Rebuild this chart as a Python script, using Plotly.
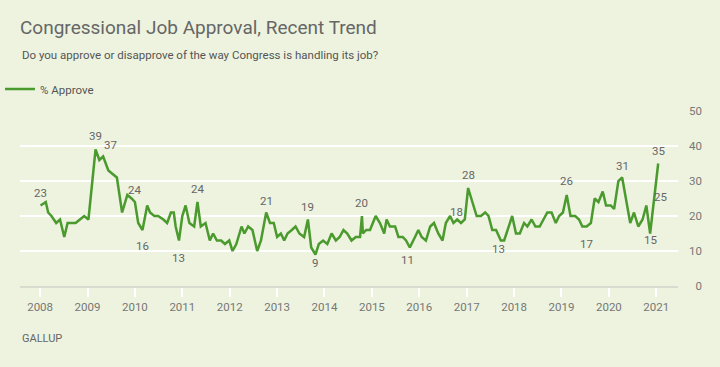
import plotly.graph_objects as go

# ---- data ----
poll_time = [
    2008.01, 2008.12, 2008.17, 2008.24, 2008.34, 2008.42, 2008.51, 2008.58, 2008.67, 2008.75, 2008.84, 2008.93,
    2009.02, 2009.09, 2009.17, 2009.25, 2009.33, 2009.44, 2009.54, 2009.62, 2009.73, 2009.84, 2009.93,
    2010.00, 2010.07, 2010.16, 2010.26, 2010.32, 2010.41, 2010.49, 2010.60, 2010.68, 2010.76, 2010.82, 2010.86, 2010.93,
    2011.00, 2011.07, 2011.15, 2011.25, 2011.32, 2011.39, 2011.49, 2011.58, 2011.65, 2011.73, 2011.82, 2011.90, 2011.99,
    2012.06, 2012.14, 2012.25, 2012.31, 2012.39, 2012.48, 2012.58, 2012.66, 2012.77, 2012.85, 2012.93,
    2013.00, 2013.08, 2013.15, 2013.22, 2013.31, 2013.39, 2013.47, 2013.57, 2013.65, 2013.72, 2013.81, 2013.88, 2013.97,
    2014.06, 2014.15, 2014.24, 2014.32, 2014.40, 2014.48, 2014.57, 2014.66, 2014.75, 2014.79, 2014.81, 2014.88, 2014.96,
    2015.08, 2015.17, 2015.26, 2015.31, 2015.38, 2015.49, 2015.56, 2015.65, 2015.72, 2015.80, 2015.91, 2015.98,
    2016.05, 2016.14, 2016.23, 2016.31, 2016.40, 2016.49, 2016.56, 2016.65, 2016.72, 2016.80, 2016.88, 2016.96,
    2017.03, 2017.12, 2017.21, 2017.30, 2017.39, 2017.46, 2017.54, 2017.62, 2017.72, 2017.79, 2017.87, 2017.96,
    2018.04, 2018.12, 2018.21, 2018.28, 2018.37, 2018.45, 2018.54, 2018.62, 2018.70, 2018.79, 2018.88, 2018.95,
    2019.03, 2019.11, 2019.19, 2019.29, 2019.37, 2019.44, 2019.53, 2019.62, 2019.70, 2019.78, 2019.87, 2019.94,
    2020.04, 2020.11, 2020.20, 2020.28, 2020.45, 2020.53, 2020.62, 2020.71, 2020.79, 2020.87, 2020.95, 2021.04,
]
approve = [
    23, 24, 21, 20, 18, 19, 14, 18, 18, 18, 19, 20,
    19, 29, 39, 36, 37, 33, 32, 31, 21, 26, 25,
    24, 18, 16, 23, 21, 20, 20, 19, 18, 21, 21, 17, 13,
    20, 23, 18, 17, 24, 17, 18, 13, 15, 13, 13, 12, 13,
    10, 12, 17, 15, 17, 16, 10, 13, 21, 18, 18,
    14, 15, 13, 15, 16, 17, 15, 14, 19, 11, 9, 12, 13,
    12, 15, 13, 14, 16, 15, 13, 14, 14, 20, 15, 16, 16,
    20, 18, 15, 19, 17, 17, 14, 14, 13, 11, 14, 16,
    14, 13, 17, 18, 15, 13, 18, 20, 18, 19, 18, 19,
    28, 24, 20, 20, 21, 20, 16, 16, 13, 13, 16, 20,
    15, 15, 18, 17, 19, 17, 17, 19, 21, 21, 18, 20,
    21, 26, 20, 20, 19, 17, 17, 18, 25, 24, 27, 23,
    23, 22, 30, 31, 18, 21, 17, 19, 23, 15, 25, 35,
]

# highlighted point labels
label_time = [2008.01, 2009.17, 2009.33, 2010.00, 2010.16, 2010.93, 2011.32, 2012.77, 2013.65, 2013.81,
              2014.79, 2015.80, 2016.80, 2017.03, 2017.72, 2019.11, 2019.53, 2020.28, 2020.87, 2020.95, 2021.04]
label_text = ["23", "39", "37", "24", "16", "13", "24", "21", "19", "9",
              "20", "11", "18", "28", "13", "26", "17", "31", "15", "25", "35"]

years = list(range(2008, 2022))
year_labels = [str(y) for y in years]
y_ticks = [0, 10, 20, 30, 40, 50]
y_tick_labels = [str(v) for v in y_ticks]

# label placement (px offsets), style only
label_dx = [0, 0, 7, 0, 0, 0, 0, 0, 0, 0, 0, -2, -1, 0, -2, 0, 0, 0, 0, 7, 0]
label_dy = [13, 14, 12, 12, -16, -17, 13, 12, 13, -8, 13, -12, 8, 13, -8, 14, -17, 12, -6, 2, 13]

BG = "#edf3df"
GREEN = "#4a9a2e"
FONT = "Roboto"

fig = go.Figure()
fig.add_trace(go.Scatter(
    x=poll_time, y=approve, mode="lines", name="% Approve",
    line=dict(color=GREEN, width=2.5), hoverinfo="x+y",
))

for t, txt, dx, dy in zip(label_time, label_text, label_dx, label_dy):
    v = approve[poll_time.index(t)]
    fig.add_annotation(x=t, y=v, text=txt, showarrow=False, xshift=dx, yshift=dy,
                       font=dict(family=FONT, size=11.5, color="#666666"))

fig.add_annotation(xref="paper", yref="paper", x=0, y=(286 - 55) / 175, xanchor="left", yanchor="middle",
                   text="Do you approve or disapprove of the way Congress is handling its job?",
                   showarrow=False, font=dict(family=FONT, size=11.5, color="#555555"))
fig.add_annotation(xref="paper", yref="paper", x=0, y=(286 - 338) / 175, xanchor="left", yanchor="middle",
                   text="GALLUP", showarrow=False, font=dict(family=FONT, size=11, color="#666666"))

fig.update_layout(
    width=720, height=367,
    margin=dict(l=20, r=16, t=111, b=81, autoexpand=False),
    paper_bgcolor=BG, plot_bgcolor=BG,
    font=dict(family=FONT, color="#666666"),
    title=dict(text="Congressional Job Approval, Recent Trend", x=20 / 720, xanchor="left",
               xref="container", y=1 - 27 / 367, yanchor="middle",
               font=dict(family=FONT, size=19, color="#666666")),
    showlegend=True,
    legend=dict(orientation="h", xref="container", yref="container", x=0.0, y=1 - 89 / 367,
                xanchor="left", yanchor="middle", bgcolor="rgba(0,0,0,0)",
                font=dict(family=FONT, size=11.5, color="#555555")),
    xaxis=dict(range=[2007.576, 2021.458], domain=[0, 658 / 684],
               tickmode="array", tickvals=years, ticktext=year_labels,
               ticks="outside", ticklen=9, tickwidth=2, tickcolor="#ffffff",
               showgrid=False, zeroline=False, showline=True, linecolor="#d8dccf", linewidth=2,
               tickfont=dict(family=FONT, size=11.5, color="#777777")),
    yaxis=dict(range=[0, 50], tickmode="array", tickvals=y_ticks, ticktext=y_tick_labels,
               side="left", anchor="free", position=0.997,
               showgrid=True, gridcolor="#ffffff", gridwidth=2, zeroline=False, ticks="",
               tickfont=dict(family=FONT, size=11.5, color="#777777")),
)

fig.write_html("out.html", config={"displayModeBar": False},
               post_script="document.body.style.margin='0';")
